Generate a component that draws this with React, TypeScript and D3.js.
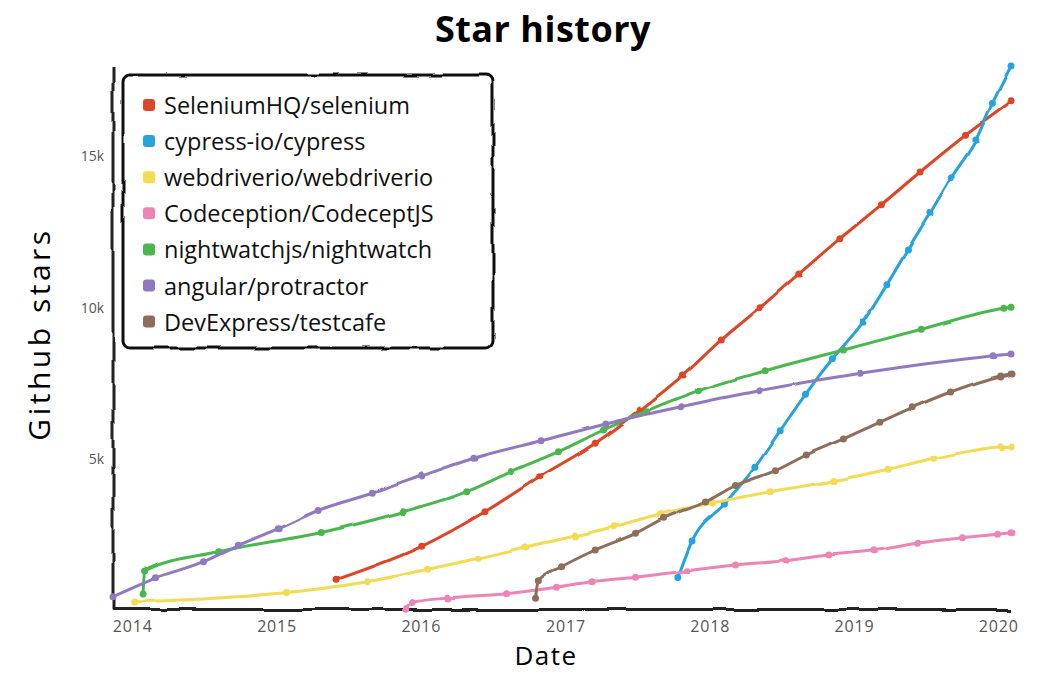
import React from 'react';
import * as d3 from 'd3';

const chartTitle = 'Star history';
const xAxisLabel = 'Date';
const yAxisLabel = 'Github stars';
const yTickValues = [5000, 10000, 15000];
const xTickYears = ['2014', '2015', '2016', '2017', '2018', '2019', '2020'];

const seriesNames = [
  'SeleniumHQ/selenium',
  'cypress-io/cypress',
  'webdriverio/webdriverio',
  'Codeception/CodeceptJS',
  'nightwatchjs/nightwatch',
  'angular/protractor',
  'DevExpress/testcafe',
];
const seriesColors = ['#dd4528', '#28a3dd', '#f3db52', '#ed84b5', '#4ab74e', '#9179c0', '#8e6d5a'];

const seleniumDates = ['2015-06-02', '2016-01-02', '2016-06-10', '2016-10-27', '2017-03-16', '2017-07-08', '2017-10-25', '2018-01-29', '2018-05-07', '2018-08-13', '2018-11-25', '2019-03-10', '2019-06-16', '2019-10-09', '2020-02-01'];
const seleniumStars = [998, 2089, 3233, 4390, 5495, 6595, 7753, 8910, 9978, 11092, 12259, 13383, 14464, 15677, 16788];

const cypressDates = ['2017-10-11', '2017-11-16', '2018-02-06', '2018-04-24', '2018-06-27', '2018-08-30', '2018-11-06', '2019-01-23', '2019-03-24', '2019-05-15', '2019-07-11', '2019-09-03', '2019-11-04', '2019-12-16', '2020-02-01'];
const cypressStars = [1058, 2265, 3488, 4701, 5911, 7115, 8288, 9505, 10738, 11885, 13098, 14275, 15522, 16735, 17968];

const webdriverioDates = ['2014-01-06', '2015-01-25', '2015-08-19', '2016-01-17', '2016-05-24', '2016-09-19', '2017-01-25', '2017-05-01', '2017-08-27', '2018-01-07', '2018-06-02', '2018-11-10', '2019-03-27', '2019-07-21', '2020-01-06', '2020-02-01'];
const webdriverioStars = [248, 562, 919, 1329, 1693, 2066, 2430, 2737, 3157, 3521, 3894, 4258, 4635, 4999, 5382, 5405];

const codeceptDates = ['2015-11-25', '2015-12-11', '2016-03-08', '2016-08-04', '2016-12-08', '2017-03-08', '2017-06-26', '2017-11-04', '2018-03-06', '2018-07-11', '2018-10-28', '2019-02-19', '2019-06-09', '2019-10-01', '2019-12-29', '2020-02-01'];
const codeceptStars = [40, 231, 380, 522, 734, 919, 1065, 1283, 1471, 1613, 1802, 1944, 2189, 2374, 2486, 2539];

const nightwatchDates = ['2014-01-27', '2014-01-31', '2014-08-04', '2015-04-23', '2015-11-16', '2016-04-25', '2016-08-16', '2016-12-13', '2017-04-06', '2017-07-25', '2017-12-02', '2018-05-20', '2018-12-04', '2019-06-19', '2020-01-14', '2020-02-01'];
const nightwatchStars = [512, 1273, 1911, 2546, 3233, 3894, 4562, 5217, 5934, 6572, 7234, 7895, 8579, 9263, 9958, 9991];

const protractorDates = ['2013-11-12', '2014-03-02', '2014-06-29', '2014-09-25', '2015-01-04', '2015-04-15', '2015-08-30', '2016-01-02', '2016-05-13', '2016-10-30', '2017-04-12', '2017-10-18', '2018-05-04', '2019-01-15', '2019-12-20', '2020-02-01'];
const protractorStars = [423, 1048, 1580, 2122, 2671, 3273, 3842, 4414, 5002, 5577, 6133, 6705, 7234, 7809, 8391, 8447];

const testcafeDates = ['2016-10-16', '2016-10-23', '2016-12-21', '2017-03-16', '2017-06-26', '2017-09-05', '2017-12-20', '2018-03-06', '2018-06-15', '2018-09-01', '2018-12-04', '2019-03-06', '2019-05-27', '2019-09-01', '2020-01-06', '2020-02-01'];
const testcafeStars = [370, 949, 1415, 1967, 2519, 3015, 3554, 4099, 4589, 5108, 5637, 6189, 6672, 7191, 7720, 7786];

const seriesDates = [seleniumDates, cypressDates, webdriverioDates, codeceptDates, nightwatchDates, protractorDates, testcafeDates];
const seriesStars = [seleniumStars, cypressStars, webdriverioStars, codeceptStars, nightwatchStars, protractorStars, testcafeStars];

const W = 1037;
const H = 674;
const M = { left: 113, right: 26, top: 66, bottom: 64.5 };
const FONT = "'Open Sans', 'DejaVu Sans', sans-serif";

type Pt = { date: Date; value: number };

export default function App() {
  const parse = d3.timeParse('%Y-%m-%d');
  const series = seriesNames.map((name, i) => ({
    name,
    color: seriesColors[i],
    points: seriesDates[i].map((d, j) => ({ date: parse(d) as Date, value: seriesStars[i][j] })) as Pt[],
  }));
  const allPts = series.flatMap((s) => s.points);
  const x = d3
    .scaleTime()
    .domain(d3.extent(allPts, (p) => p.date) as [Date, Date])
    .range([M.left, W - M.right]);
  const y = d3
    .scaleLinear()
    .domain([0, d3.max(allPts, (p) => p.value) as number])
    .range([H - M.bottom, M.top]);
  const line = d3
    .line<Pt>()
    .x((p) => x(p.date))
    .y((p) => y(p.value))
    .curve(d3.curveMonotoneX);

  const x0 = M.left;
  const x1 = W - M.right;
  const y0 = H - M.bottom;
  const y1 = M.top;

  const legend = { x: 123, y: 75, w: 370, h: 273, row: 36.1, first: 30 };

  return (
    <svg width={W} height={H} style={{ position: 'absolute', left: 0, top: 0, background: '#fff' }} fontFamily={FONT}>
      <defs>
        <filter id="xkcdify" filterUnits="userSpaceOnUse" x="-5" y="-5" width="110%" height="110%">
          <feTurbulence type="fractalNoise" baseFrequency="0.04" result="noise" />
          <feDisplacementMap scale="5" xChannelSelector="R" yChannelSelector="G" in="SourceGraphic" in2="noise" />
        </filter>
        <filter id="xkcdLines" filterUnits="userSpaceOnUse" x="-5" y="-5" width="110%" height="110%">
          <feTurbulence type="fractalNoise" baseFrequency="0.03" result="noise" />
          <feDisplacementMap scale="3" xChannelSelector="R" yChannelSelector="G" in="SourceGraphic" in2="noise" />
        </filter>
      </defs>
      <rect x={0} y={0} width={W} height={H} fill="#fff" />
      <text x={543} y={42} textAnchor="middle" fontSize={36} fontWeight={700} letterSpacing={0.5} fill="#000">
        {chartTitle}
      </text>
      <text
        transform={`translate(38, ${334}) rotate(-90)`}
        textAnchor="middle"
        dominantBaseline="central"
        fontSize={30}
        letterSpacing={3.5}
        fill="#000"
      >
        {yAxisLabel}
      </text>
      <text x={546} y={665} textAnchor="middle" fontSize={26} letterSpacing={1.5} fill="#000">
        {xAxisLabel}
      </text>

      {xTickYears.map((yr) => (
        <text key={yr} x={x(parse(`${yr}-01-01`) as Date)} y={632} textAnchor="middle" fontSize={16} letterSpacing={0.8} fill="#555">
          {yr}
        </text>
      ))}
      {yTickValues.map((v) => (
        <text key={v} x={104} y={y(v)} textAnchor="end" dominantBaseline="central" fontSize={14} fill="#555">
          {d3.format('~s')(v)}
        </text>
      ))}

      <g filter="url(#xkcdify)">
        <path d={`M${x0},${y1 + 1}L${x0},${y0}L${x1},${y0}`} fill="none" stroke="#222" strokeWidth={3} strokeLinejoin="round" />
      </g>
      <g filter="url(#xkcdLines)">
        {series.map((s) => (
          <g key={s.name}>
            <path d={line(s.points) as string} fill="none" stroke={s.color} strokeWidth={3} strokeLinecap="round" />
            {s.points.map((p, j) => (
              <circle key={j} cx={x(p.date)} cy={y(p.value)} r={3.5} fill={s.color} />
            ))}
          </g>
        ))}
      </g>
      <g filter="url(#xkcdify)">
        <rect x={legend.x} y={legend.y} width={legend.w} height={legend.h} rx={7} fill="#fff" stroke="#111" strokeWidth={3} />
      </g>
      {series.map((s, i) => (
        <g key={s.name} transform={`translate(${legend.x}, ${legend.y + legend.first + i * legend.row})`}>
          <rect x={20} y={-6} width={12} height={12} rx={3} fill={s.color} />
          <text x={41} y={0} dominantBaseline="central" fontSize={23.5} fill="#111">
            {s.name}
          </text>
        </g>
      ))}
    </svg>
  );
}
